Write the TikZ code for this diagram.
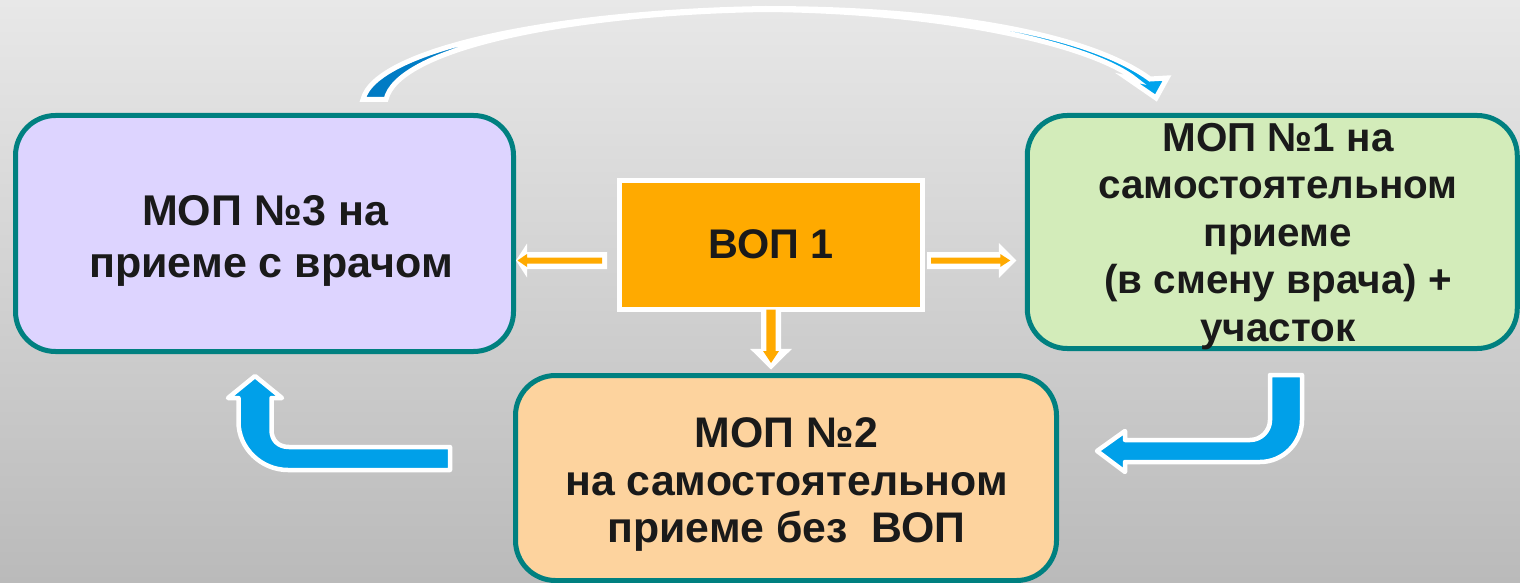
\documentclass[tikz,border=0pt]{standalone}
\usepackage{fontspec}
\setmainfont{Liberation Sans}
\usetikzlibrary{calc}
\definecolor{bgtop}{RGB}{232,232,232}
\definecolor{bgbot}{RGB}{186,186,186}
\definecolor{bordert}{RGB}{0,128,128}
\definecolor{lav}{RGB}{221,212,255}
\definecolor{grn}{RGB}{211,236,186}
\definecolor{pch}{RGB}{253,211,158}
\definecolor{org}{RGB}{255,170,0}
\definecolor{bluea}{RGB}{0,122,195}
\definecolor{blueb}{RGB}{0,165,238}
\definecolor{bluec}{RGB}{0,160,233}
\definecolor{txt}{RGB}{26,26,26}
\begin{document}
\begin{tikzpicture}[x=0.5pt,y=-0.5pt,
  mopbox/.style={draw=bordert, line width=2.5pt, rounded corners=20pt, inner sep=0pt},
  lbl/.style={text=txt, align=center, inner sep=0pt, font=\bfseries\fontsize{21.5}{25.8}\selectfont},
  whitearrow/.style={fill=white},
  orangearrow/.style={fill=org},
  bluearrow/.style={fill=bluec, draw=white, line width=2.25pt, line join=round},
  arcarrow/.style={left color=bluea, right color=blueb, draw=white, line width=2.5pt, line join=miter},
]
% background
\shade[top color=bgtop, bottom color=bgbot] (0,0) rectangle (1520,583);
\useasboundingbox (0,0) rectangle (1520,583);

% boxes
\node[mopbox, fill=lav, minimum width=249pt, minimum height=118pt] (mop3) at (264.5,233.5) {};
\node[mopbox, fill=grn, minimum width=245pt, minimum height=116.5pt] (mop1) at (1272.25,232) {};
\node[mopbox, fill=pch, minimum width=270.5pt, minimum height=102.5pt] (mop2) at (786,478) {};
\node[draw=white, fill=org, line width=2.5pt, minimum width=151.5pt, minimum height=64.5pt,
      text=txt, font=\bfseries\fontsize{20.7}{25}\selectfont] (vop) at (771,244.5) {ВОП 1};

% texts
\node[lbl] (t3) at (271,240.9) {МОП №3 на\hspace*{0.278em}\\приеме с врачом};
\node[lbl, font=\bfseries\fontsize{20.2}{23.75}\selectfont] (t1) at (1278,236.3)
  {МОП №1 на\\самостоятельном\\приеме\\(в смену врача) +\\участок};
\node[lbl, font=\bfseries\fontsize{21.4}{23.75}\selectfont] (t2) at (786.5,484.6)
  {МОП №2\\на самостоятельном\\приеме без~~ВОП};

% orange arrow: ВОП -> МОП3 (left)
\coordinate (ls) at ($(vop.west)+(-10,16)$);
\coordinate (lt) at (ls -| mop3.east);
\fill[whitearrow] ($(ls)+(0,-8.5)$) -- ($(lt)+(11,-8.5)$) -- ($(lt)+(11,-17)$) -- (lt)
  -- ($(lt)+(11,17)$) -- ($(lt)+(11,8.5)$) -- ($(ls)+(0,8.5)$) -- cycle;
\fill[orangearrow] ($(ls)+(-5,-3)$) -- ($(lt)+(11,-3)$) -- ($(lt)+(11,-6.5)$) -- ($(lt)+(1.5,0)$)
  -- ($(lt)+(11,6.5)$) -- ($(lt)+(11,3)$) -- ($(ls)+(-5,3)$) -- cycle;

% orange arrow: ВОП -> МОП1 (right)
\coordinate (rs) at ($(vop.east)+(2,16)$);
\coordinate (rt) at ($(rs -| mop1.west)+(-8.5,0)$);
\fill[whitearrow] ($(rs)+(0,-8.5)$) -- ($(rt)+(-17.5,-8.5)$) -- ($(rt)+(-17.5,-17.5)$) -- (rt)
  -- ($(rt)+(-17.5,17.5)$) -- ($(rt)+(-17.5,8.5)$) -- ($(rs)+(0,8.5)$) -- cycle;
\fill[orangearrow] ($(rs)+(4,-3)$) -- ($(rt)+(-16,-3)$) -- ($(rt)+(-16,-6.5)$) -- ($(rt)+(-6,0)$)
  -- ($(rt)+(-16,6.5)$) -- ($(rt)+(-16,3)$) -- ($(rs)+(4,3)$) -- cycle;

% orange arrow: ВОП -> МОП2 (down)
\coordinate (ds) at ($(vop.south)+(0,-2)$);
\coordinate (dt) at ($(ds |- mop2.north)+(0,-3.5)$);
\fill[whitearrow] ($(ds)+(-10,0)$) -- ($(dt)+(-10,-20.7)$) -- ($(dt)+(-21,-20.7)$) -- (dt)
  -- ($(dt)+(21,-20.7)$) -- ($(dt)+(10,-20.7)$) -- ($(ds)+(10,0)$) -- cycle;
\fill[orangearrow] ($(ds)+(-4.7,0)$) -- ($(dt)+(-4.7,-18.5)$) -- ($(dt)+(-8,-18.5)$) -- ($(dt)+(0,-6.5)$)
  -- ($(dt)+(8,-18.5)$) -- ($(dt)+(4.7,-18.5)$) -- ($(ds)+(4.7,0)$) -- cycle;

% top curved arrow МОП3 -> МОП1
\coordinate (arcA) at (374.5,99.5);
\coordinate (arcB) at (1156,98);
\path[arcarrow] (363,99.5) .. controls (375,50) and (550,12) .. (765,8.5)
  .. controls (950,8.5) and (1090,35) .. (1150,79)
  -- (1167,78) -- (arcB) -- (1127,78) -- (1136,80)
  .. controls (1095,46) and (950,11) .. (765,9.5)
  .. controls (560,13) and (397,50) .. (386,99.5) -- cycle;

% blue bent arrow МОП1 -> МОП2
\coordinate (b1s) at (1286,375);
\coordinate (b1t) at (1097,451);
\path[bluearrow] (1270,375) -- (1302,375) -- (1302,420) .. controls (1302,443) and (1283,462) .. (1260,462)
  -- (1125,462) -- (1125,472) -- (b1t) -- (1125,431) -- (1125,440) -- (1250,440)
  .. controls (1261,440) and (1270,431) .. (1270,420) -- cycle;

% blue bent arrow МОП2 -> МОП3
\coordinate (b2s) at (450,458.5);
\coordinate (b2t) at (255,376);
\path[bluearrow] (450,447) -- (450,470) -- (288,470) .. controls (261,470) and (238.5,448) .. (238.5,422)
  -- (238.5,398) -- (228,398) -- (b2t) -- (282,398) -- (271.5,398) -- (271.5,430)
  .. controls (271.5,440) and (278,447) .. (289,447) -- cycle;
\end{tikzpicture}
\end{document}
